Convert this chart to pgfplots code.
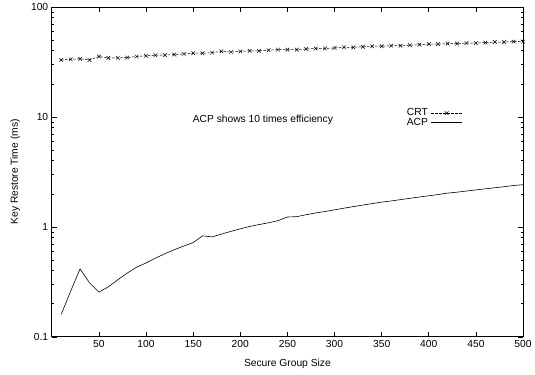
\documentclass[border=0pt]{standalone}
\usepackage{fontspec}
\setmainfont{Liberation Sans}
\usepackage{pgfplots}
\pgfplotsset{compat=1.18}
\begin{document}
\fontsize{10.3bp}{12bp}\selectfont
\begin{tikzpicture}
\begin{axis}[
  at={(0,0)}, anchor=south west,
  scale only axis,
  width=473bp, height=331bp,
  xmin=0, xmax=500,
  ymode=log, ymin=0.1, ymax=100,
  xtick={50,100,...,500},
  ytick={0.1,1,10,100},
  yticklabels={0.1,1,10,100},
  /pgf/number format/assume math mode=true,
  tick align=inside,
  major tick length=5bp,
  minor tick length=2.5bp,
  axis line style={line width=0.9bp},
  every tick/.style={black, line width=0.6bp},
  tick label style={font=\fontsize{10.3bp}{12bp}\selectfont},
  label style={font=\fontsize{10.3bp}{12bp}\selectfont},
  xlabel={Secure Group Size},
  ylabel={Key Restore Time (ms)},
  xlabel style={yshift=-4bp},
  ylabel style={yshift=4bp},
  legend style={at={(axis cs:436,12.0)}, anchor=north east, draw=none, fill=none,
    inner sep=0pt, row sep=0bp, font=\fontsize{10.3bp}{12bp}\selectfont,
    nodes={inner xsep=3bp, inner ysep=0.3bp}},
  legend cell align=right,
  legend plot pos=right,
  legend image code/.code={\draw[mark repeat=2,mark phase=2,#1] plot coordinates {(0cm,0cm) (0.55cm,0cm) (1.1cm,0cm)};},
]
\addplot[black, line width=0.5bp, dash pattern=on 2.5bp off 1.5bp, mark=x, mark size=2.6bp, mark options={solid}] coordinates {
(10,33.0) (20,33.5) (30,33.8) (40,33.0) (50,35.5) (60,34.5) (70,34.5) (80,34.7) (90,35.5) (100,36.0)
(110,36.5) (120,36.5) (130,37.0) (140,37.5) (150,38.0) (160,38.0) (170,38.5) (180,39.5) (190,39.0) (200,39.5)
(210,40.0) (220,40.0) (230,40.5) (240,41.0) (250,41.0) (260,41.0) (270,41.5) (280,42.0) (290,42.0) (300,42.5)
(310,43.0) (320,43.0) (330,43.5) (340,44.0) (350,44.0) (360,44.5) (370,44.5) (380,45.0) (390,45.5) (400,46.0)
(410,46.0) (420,46.5) (430,46.5) (440,47.0) (450,47.0) (460,47.5) (470,48.0) (480,48.0) (490,48.5) (500,48.5)
};
\addlegendentry{CRT}
\addplot[black, line width=0.6bp] coordinates {
(10,0.16) (20,0.26) (30,0.415) (40,0.31) (50,0.255) (60,0.285) (70,0.33) (80,0.38) (90,0.43) (100,0.47)
(110,0.52) (120,0.57) (130,0.62) (140,0.67) (150,0.72) (160,0.83) (170,0.81) (180,0.86) (190,0.91) (200,0.96)
(210,1.01) (220,1.05) (230,1.09) (240,1.14) (250,1.23) (260,1.24) (270,1.29) (280,1.34) (290,1.38) (300,1.43)
(310,1.48) (320,1.53) (330,1.58) (340,1.63) (350,1.68) (360,1.72) (370,1.77) (380,1.82) (390,1.87) (400,1.92)
(410,1.97) (420,2.03) (430,2.07) (440,2.12) (450,2.17) (460,2.22) (470,2.27) (480,2.32) (490,2.38) (500,2.42)
};
\addlegendentry{ACP}
\node at (axis cs:224,9.4) {ACP shows 10 times efficiency};
\end{axis}
\path[use as bounding box] (-52bp,-38bp) rectangle (483bp,337bp);
\end{tikzpicture}
\end{document}
